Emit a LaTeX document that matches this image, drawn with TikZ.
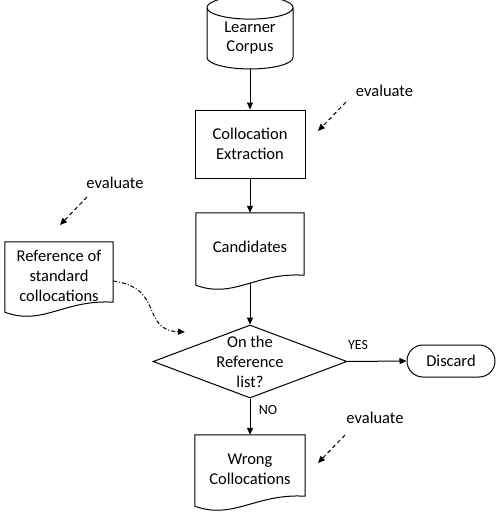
\documentclass[tikz,border=0pt]{standalone}
\usepackage{fontspec}
\setmainfont{Carlito}
\usetikzlibrary{shapes.geometric,shapes.misc,arrows.meta}

\begin{document}
\begin{tikzpicture}[x=1pt,y=-1pt]
	\tikzstyle{box}=[rectangle,draw=black,line width=1pt,inner sep=0pt,align=center,font=\fontsize{16.5}{20}\selectfont]
	\tikzstyle{doc}=[rectangle,inner sep=0pt,align=center,font=\fontsize{16.5}{20}\selectfont]
	\tikzstyle{store}=[cylinder,shape border rotate=90,draw=black,line width=1pt,inner sep=0pt,aspect=0.45,align=center,font=\fontsize{16.5}{19}\selectfont]
	\tikzstyle{decision}=[diamond,draw=black,line width=1pt,inner sep=0pt,minimum width=194pt,minimum height=73pt]
	\tikzstyle{stop}=[rounded rectangle,draw=black,line width=1pt,inner sep=0pt,font=\fontsize{16.5}{20}\selectfont]
	\tikzstyle{note}=[font=\fontsize{16.5}{20}\selectfont,inner sep=0pt]
	\tikzstyle{answer}=[font=\fontsize{14}{16}\selectfont,inner sep=0pt]
	\tikzstyle{edge}=[draw,line width=1pt,-{Triangle[length=7pt,width=6pt]}]
	\tikzstyle{check}=[draw,line width=1pt,dash pattern=on 4pt off 3pt,-{Triangle[length=7pt,width=6pt]}]
	\tikzstyle{lookup}=[draw,line width=1pt,dash pattern=on 4pt off 2pt on 1pt off 2pt,-{Triangle[length=7pt,width=6pt]}]
	\useasboundingbox (0,0) rectangle (503,515);
	\begin{scope}
		\node [store] (corpus) at (250,38.5) [minimum width=86pt,minimum height=73pt] {Learner\\Corpus};
		\node [box] (extract) at (250,144) [minimum width=110pt,minimum height=68pt] {Collocation\\Extraction};
		\node [doc] (cand) at (250,248) [minimum width=108pt,minimum height=70pt] {\raisebox{3pt}{Candidates}};
		\node [doc] (refdoc) at (59,276) [minimum width=108pt,minimum height=68pt] {Reference of\\standard\\collocations};
		\node [decision] (decide) at (250,361.5) {};
		\node [note,align=center] (question) at (decide.center) {On the\\Reference\\list?};
		\node [stop] (discard) at (451,361) [minimum width=88pt,minimum height=32pt] {Discard};
		\node [doc] (wrong) at (250,469.5) [minimum width=110pt,minimum height=69pt] {Wrong\\Collocations};
		% document outlines with the wavy bottom edge
		\foreach \d in {cand,refdoc,wrong}
			\draw [line width=1pt] (\d.north west) -- ([yshift=-2pt]\d.south west)
				.. controls +(38,14) and +(-49,-3) .. ([yshift=8pt]\d.south east) -- (\d.north east) -- cycle;
		\node [answer] (yes) at (358,345) {YES};
		\node [answer] (no) at (268,410) {NO};
		\node [note] (ev1) at (384.5,91) {evaluate};
		\node [note] (ev2) at (115,183) {evaluate};
		\node [note] (ev3) at (375,418) {evaluate};
		\coordinate (ev1a) at (346,102);
		\coordinate (ev1b) at (318,131);
		\coordinate (ev2a) at (87,197);
		\coordinate (ev2b) at (60,225);
		\coordinate (ev3a) at (345,435);
		\coordinate (ev3b) at (318,463);
		\coordinate (lookupend) at (185,332);
		\path[edge] (corpus.south) -- (extract.north);
		\path[edge] (extract.south) -- (cand.north);
		\path[edge] (cand.south) -- (decide.north);
		\path[edge] (decide.east) -- (discard.west);
		\path[edge] (decide.south) -- (wrong.north);
		\path[check] (ev1a) -- (ev1b);
		\path[check] (ev2a) -- (ev2b);
		\path[check] (ev3a) -- (ev3b);
		\path[lookup] ([yshift=-5pt]refdoc.east) .. controls (165,288) and (140,330) .. (lookupend);
	\end{scope}
\end{tikzpicture}
\end{document}
